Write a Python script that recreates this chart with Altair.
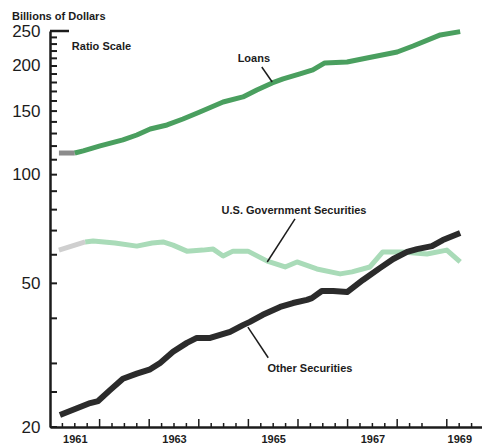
import altair as alt
import pandas as pd

# ---------------- data ----------------
loans_year = [1961.18, 1961.50, 1961.67, 1962.01, 1962.47, 1962.75, 1963.02, 1963.36,
              1963.68, 1964.02, 1964.49, 1964.89, 1965.17, 1965.48, 1965.70, 1966.04,
              1966.30, 1966.54, 1966.99, 1967.39, 1968.00, 1968.32, 1968.87, 1969.27]
loans_value = [114.8, 114.8, 116.4, 120.1, 124.8, 128.8, 133.8, 137.3,
               142.6, 149.1, 159.0, 164.2, 171.7, 179.5, 184.1, 190.1,
               195.0, 203.9, 205.2, 210.5, 218.7, 227.2, 243.8, 249.0]

gov_year = [1961.18, 1961.71, 1961.87, 1962.31, 1962.75, 1963.06, 1963.28, 1963.48,
            1963.76, 1964.08, 1964.29, 1964.49, 1964.69, 1964.99, 1965.38, 1965.74,
            1965.98, 1966.38, 1966.85, 1967.09, 1967.45, 1967.71, 1968.10, 1968.60,
            1969.00, 1969.27]
gov_value = [61.8, 65.1, 65.5, 64.7, 63.4, 64.7, 65.1, 63.8,
             61.4, 61.8, 62.2, 59.5, 61.4, 61.4, 57.6, 55.5,
             57.3, 54.8, 53.1, 53.8, 55.5, 61.1, 61.1, 60.3,
             61.8, 57.3]

oth_year = [1961.20, 1961.81, 1961.97, 1962.21, 1962.47, 1962.75, 1963.02, 1963.22,
            1963.48, 1963.76, 1963.96, 1964.23, 1964.63, 1964.89, 1965.03, 1965.29,
            1965.64, 1965.90, 1966.18, 1966.28, 1966.48, 1966.71, 1966.99, 1967.31,
            1967.65, 1967.92, 1968.20, 1968.40, 1968.70, 1968.92, 1969.27]
oth_value = [21.6, 23.3, 23.6, 25.3, 27.2, 28.1, 28.9, 30.1,
             32.3, 34.2, 35.3, 35.3, 36.7, 38.3, 39.1, 40.9,
             43.0, 44.1, 45.0, 45.5, 47.6, 47.6, 47.3, 51.1,
             55.1, 58.4, 61.1, 62.2, 63.4, 65.9, 68.9]

# number of leading points drawn grey (print mis-registration at line starts)
loans_grey_points = 2
gov_grey_points = 2

y_label_values = [20, 50, 100, 150, 200, 250]
y_tick_values = [20, 25, 30, 40, 50, 60, 70, 80, 90, 100, 110, 120, 130, 140, 150,
                 160, 170, 180, 190, 200, 210, 220, 230, 240]
y_cap_value = [250]
x_label_values = [1961.5, 1963.5, 1965.5, 1967.5, 1969.5]
x_major_ticks = [1962, 1963, 1964, 1965, 1966, 1967, 1968, 1969]
x_minor_ticks = [1961.25, 1961.5, 1961.75, 1962.25, 1962.5, 1962.75,
                 1963.25, 1963.5, 1963.75, 1964.25, 1964.5, 1964.75,
                 1965.25, 1965.5, 1965.75, 1966.25, 1966.5, 1966.75,
                 1967.25, 1967.5, 1967.75, 1968.25, 1968.5]

ann_text = ["Loans", "U.S. Government Securities", "Other Securities", "Ratio Scale"]
ann_year = [1965.11, 1965.92, 1966.24, 1961.44]
ann_value = [209.1, 79.3, 28.9, 225.8]
ann_align = ["center", "center", "center", "left"]

lead_year = [1965.27, 1965.94, 1964.99]
lead_value = [198.7, 75.4, 37.8]
lead_year2 = [1965.48, 1965.38, 1965.40]
lead_value2 = [180.6, 57.3, 31.1]

# ---------------- chart ----------------
W, H = 432, 396
FONT = "Liberation Sans"
INK = "#1c1c1c"

xs = alt.Scale(domain=[1961, 1969.71], nice=False, zero=False)
ys = alt.Scale(type="log", domain=[20, 250], nice=False)

xaxis = alt.Axis(values=x_label_values, labelExpr="'' + floor(datum.value)",
                 ticks=False, tickSize=0, grid=False, title=None,
                 domainColor=INK, domainWidth=2.5, labelPadding=6,
                 labelFont=FONT, labelFontSize=11, labelFontWeight="bold",
                 labelColor=INK, labelOverlap=False, labelBound=False,
                 labelFlush=12)
yaxis = alt.Axis(values=y_label_values, ticks=False, tickSize=0, grid=False,
                 title=None, domainColor=INK, domainWidth=2.5, labelPadding=10,
                 labelFont=FONT, labelFontSize=17, labelColor=INK)


def X(field="year"):
    return alt.X(f"{field}:Q", scale=xs, axis=xaxis)


def Y(field="value"):
    return alt.Y(f"{field}:Q", scale=ys, axis=yaxis)


def df(years, values):
    return pd.DataFrame({"year": years, "value": values})


loans = df(loans_year, loans_value)
gov = df(gov_year, gov_value)
oth = df(oth_year, oth_value)


def line(d, color, width):
    return alt.Chart(d).mark_line(color=color, strokeWidth=width,
                                  strokeJoin="round").encode(x=X(), y=Y())


layers = [
    line(gov.iloc[:gov_grey_points], "#cfcfcf", 5),
    line(gov.iloc[gov_grey_points - 1:], "#a9dbb8", 5),
    line(loans.iloc[:loans_grey_points], "#8c8c8c", 5),
    line(loans.iloc[loans_grey_points - 1:], "#4a9f5f", 5),
    line(oth, "#2b2b2b", 6),
]

# axis ticks drawn inward
yt = alt.Chart(pd.DataFrame({"value": y_tick_values})).mark_rule(
    color=INK, strokeWidth=2).encode(y=Y(), x=alt.value(0), x2=alt.value(7))
ycap = alt.Chart(pd.DataFrame({"value": y_cap_value})).mark_rule(
    color=INK, strokeWidth=2.5).encode(y=Y(), x=alt.value(0), x2=alt.value(19))
xtM = alt.Chart(pd.DataFrame({"year": x_major_ticks})).mark_rule(
    color=INK, strokeWidth=1.5).encode(x=X(), y=alt.value(H), y2=alt.value(H - 8))
xtm = alt.Chart(pd.DataFrame({"year": x_minor_ticks + [1969.25, 1969.5]})).mark_rule(
    color=INK, strokeWidth=1.5).encode(x=X(), y=alt.value(H), y2=alt.value(H - 4))

leaders = alt.Chart(pd.DataFrame({"year": lead_year, "value": lead_value,
                                  "year2": lead_year2, "value2": lead_value2})).mark_rule(
    color=INK, strokeWidth=1.5).encode(x=X(), y=Y(), x2="year2:Q", y2="value2:Q")

ann = pd.DataFrame({"year": ann_year, "value": ann_value, "text": ann_text,
                    "align": ann_align})
ann_c = alt.Chart(ann[ann["align"] == "center"]).mark_text(
    font=FONT, fontSize=11, fontWeight="bold", color=INK, align="center",
    baseline="middle").encode(x=X(), y=Y(), text="text:N")
ann_l = alt.Chart(ann[ann["align"] == "left"]).mark_text(
    font=FONT, fontSize=11, fontWeight="bold", color=INK, align="left",
    baseline="middle").encode(x=X(), y=Y(), text="text:N")

unit = alt.Chart(pd.DataFrame({"text": ["Billions of Dollars"]})).mark_text(
    font=FONT, fontSize=11, fontWeight="bold", color=INK, align="left",
    baseline="middle").encode(text="text:N", x=alt.value(-38), y=alt.value(-14))

chart = alt.layer(*layers, yt, ycap, xtM, xtm, leaders, ann_c, ann_l, unit).properties(
    width=W, height=H,
    autosize=alt.AutoSizeParams(type="none"),
    padding={"left": 42, "top": 23, "right": 0, "bottom": 20},
    background="white",
).configure_view(stroke=None)

chart.save("out.html", embed_options={"renderer": "svg", "actions": False})
